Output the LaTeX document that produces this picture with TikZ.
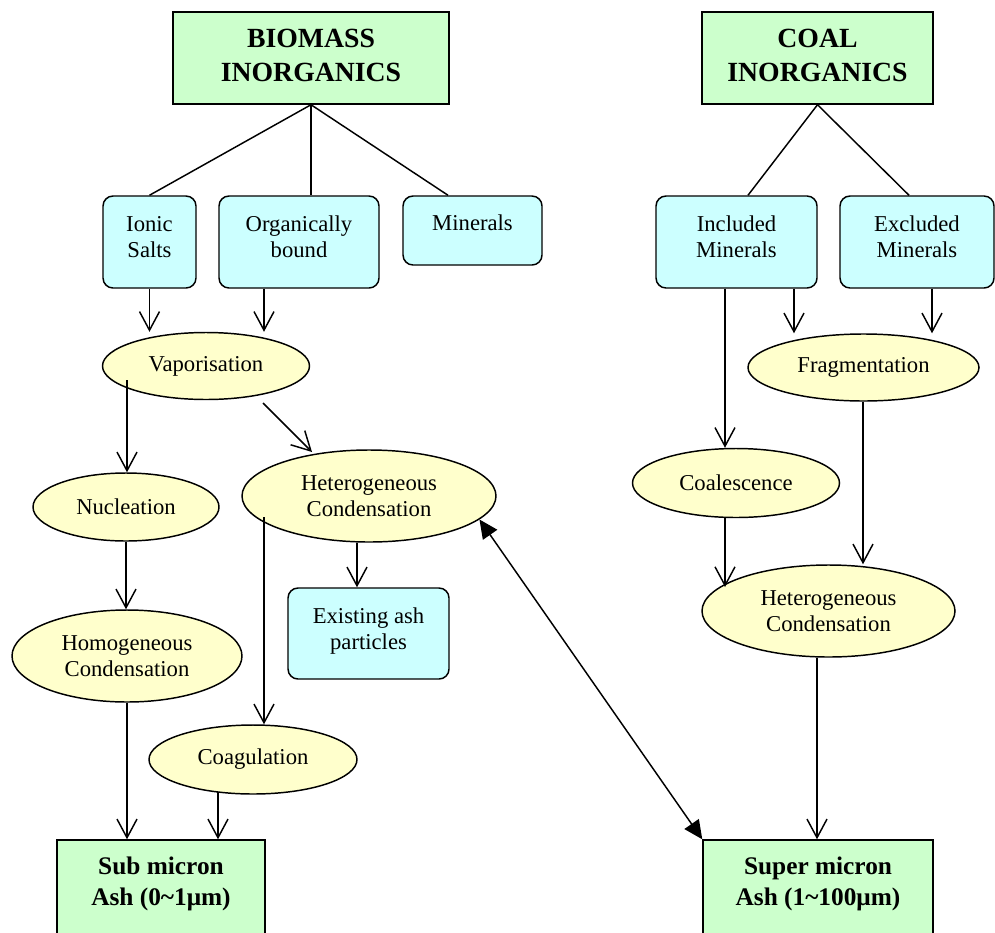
\documentclass[tikz,border=0pt]{standalone}
\usepackage{fontspec}
\setmainfont{Liberation Serif}
\usetikzlibrary{arrows.meta,shapes.geometric}

\definecolor{ashgreen}{RGB}{204,255,204}
\definecolor{srccyan}{RGB}{204,255,255}
\definecolor{procyellow}{RGB}{255,255,204}

\tikzset{
  base/.style={draw=black, line width=1.1pt, inner sep=0pt, align=center,
    font=\fontsize{17}{19.5}\selectfont},
  greenbox/.style={base, rectangle, fill=ashgreen, font=\bfseries\fontsize{20.8}{25.5}\selectfont},
  ashbox/.style={base, rectangle, fill=ashgreen, font=\bfseries\fontsize{19}{23.3}\selectfont},
  srcbox/.style={base, rectangle, rounded corners=7.5pt, fill=srccyan, text depth=8.2pt},
  proc/.style={base, ellipse, fill=procyellow},
  arr/.style={line width=1.1pt, -{Straight Barb[length=14pt,width=15pt,line width=1.1pt]}},
  link/.style={line width=1.1pt},
  twoway/.style={line width=1.1pt, {Triangle[length=14pt,width=13pt]}-{Triangle[length=14pt,width=13pt]}}
}

\begin{document}
\begin{tikzpicture}[x=0.75pt, y=-0.75pt]
  \path[use as bounding box, clip] (0,0) rectangle (995,932);
  \fill[white] (0,0) rectangle (995,932);

  % sources
  \node[greenbox, minimum width=207pt, minimum height=69pt, text depth=4.5pt] (bio) at (311,58) {BIOMASS\\INORGANICS};
  \node[greenbox, minimum width=173.25pt, minimum height=69pt, text depth=4.5pt] (coal) at (817.5,58) {COAL\\INORGANICS};

  % inorganic forms
  \node[srcbox, minimum width=69.75pt, minimum height=69pt] (ionic) at (149.5,242) {Ionic\\Salts};
  \node[srcbox, minimum width=120pt, minimum height=69pt] (organic) at (299,242) {Organically\\bound};
  \node[srcbox, minimum width=104.25pt, minimum height=51.75pt, text depth=11.2pt] (minerals) at (472.5,230.5) {Minerals};
  \node[srcbox, minimum width=120.75pt, minimum height=69pt] (incl) at (736.5,242) {Included\\Minerals};
  \node[srcbox, minimum width=115.5pt, minimum height=69pt] (excl) at (917,242) {Excluded\\Minerals};

  % biomass pathway
  \node[proc, minimum width=155.25pt, minimum height=50.25pt] (vap) at (206,366) {Vaporisation};
  \node[proc, minimum width=139.5pt, minimum height=51pt] (nuc) at (126,507) {Nucleation};
  \node[proc, minimum width=190.5pt, minimum height=69pt] (hetL) at (369,496) {Heterogeneous\\Condensation};
  \node[proc, minimum width=172.5pt, minimum height=69pt] (homo) at (127,656) {Homogeneous\\Condensation};
  \node[srcbox, minimum width=120.75pt, minimum height=68.25pt, text depth=7.5pt] (exist) at (368.5,633.5) {Existing ash\\particles};
  \node[proc, minimum width=156pt, minimum height=51.75pt] (coag) at (253,759.5) {Coagulation};

  % coal pathway
  \node[proc, minimum width=173.25pt, minimum height=50.25pt] (frag) at (863.5,367.5) {Fragmentation};
  \node[proc, minimum width=155.25pt, minimum height=51.75pt] (coalesc) at (736,483) {Coalescence};
  \node[proc, minimum width=189.75pt, minimum height=69pt] (hetR) at (828.5,611) {Heterogeneous\\Condensation};

  % products
  \node[ashbox, minimum width=156pt, minimum height=72pt, text depth=10pt] (sub) at (161,888) {Sub micron\\Ash (0\textasciitilde1μm)};
  \node[ashbox, minimum width=172.5pt, minimum height=72pt, text depth=10pt] (sup) at (818,888) {Super micron\\Ash (1\textasciitilde100μm)};

  % tree links
  \draw[link] (bio.south) -- (ionic.north);
  \draw[link] (bio.south) -- (bio.south |- organic.north);
  \draw[link] (bio.south) -- ([shift={(-24.5,0)}]minerals.north);
  \draw[link] (coal.south) -- ([shift={(11.5,0)}]incl.north);
  \draw[link] (coal.south) -- ([shift={(-8,0)}]excl.north);

  % biomass arrows
  \draw[arr] (ionic.south) -- (ionic.south |- vap.north);
  \draw[arr] ([shift={(-35,0)}]organic.south) -- ([shift={(-35,0)}]organic.south |- vap.north);
  \draw[arr] ([shift={(-79,14)}]vap.center) -- ([shift={(-79,0)}]vap.center |- nuc.north);
  \draw[arr] ([shift={(57,37)}]vap.center) -- ([shift={(-57,-44)}]hetL.center);
  \draw[arr] (nuc.south) -- (nuc.south |- homo.north);
  \draw[arr] (homo.south) -- (homo.south |- sub.north);
  \draw[arr] ([shift={(-12,0)}]hetL.south) -- ([shift={(-12,0)}]hetL.south |- exist.north);
  \draw[arr] ([shift={(-105,21)}]hetL.center) -- ([shift={(-105,0)}]hetL.center |- coag.north);
  \draw[arr] ([shift={(-35,32)}]coag.center) -- ([shift={(-35,0)}]coag.center |- sub.north);

  % coal arrows
  \draw[arr] ([shift={(-11.5,0)}]incl.south) -- ([shift={(-11.5,0)}]incl.south |- coalesc.north);
  \draw[arr] ([shift={(57.5,0)}]incl.south) -- ([shift={(57.5,0)}]incl.south |- frag.north);
  \draw[arr] ([shift={(15,0)}]excl.south) -- ([shift={(15,0)}]excl.south |- frag.north);
  \draw[arr] ([shift={(-0.5,0)}]frag.south) -- ([shift={(-0.5,0)}]frag.south |- hetR.north);
  \draw[arr] ([shift={(-11,0)}]coalesc.south) -- ([shift={(-103.5,-24)}]hetR.center);
  \draw[arr] ([shift={(-11.5,0)}]hetR.south) -- ([shift={(-11.5,0)}]hetR.south |- sup.north);

  % exchange between the two size classes
  \draw[twoway] (hetL.-12.5) -- (sup.north west);
\end{tikzpicture}
\end{document}
